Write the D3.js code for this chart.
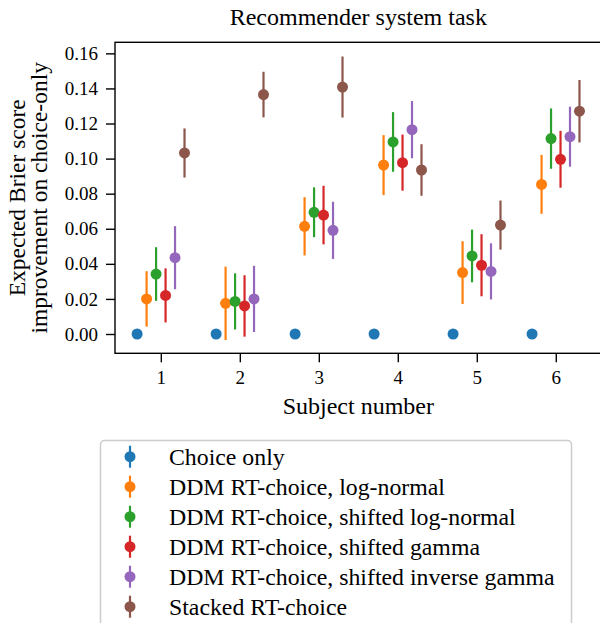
<!DOCTYPE html>
<html>
<head>
<meta charset="utf-8">
<script src="https://cdn.jsdelivr.net/npm/d3@7"></script>
<style>
  body { margin: 0; background: #fff; }
  svg { display: block; font-family: "Liberation Serif", serif; }
</style>
</head>
<body>
<svg id="chart" width="600" height="623"></svg>
<script>
// Data
const subjects = [1, 2, 3, 4, 5, 6];
const models = [
    "Choice only",
    "DDM RT-choice, log-normal",
    "DDM RT-choice, shifted log-normal",
    "DDM RT-choice, shifted gamma",
    "DDM RT-choice, shifted inverse gamma",
    "Stacked RT-choice"
];
const colors = ["#1f77b4", "#ff7f0e", "#2ca02c", "#d62728", "#9467bd", "#8c564b"];
const offsets = [-0.3, -0.18, -0.06, 0.06, 0.18, 0.3];

// mean improvement per model, one value per subject
const means = [
    [0, 0, 0, 0, 0, 0],
    [0.0200, 0.0175, 0.0614, 0.0963, 0.0350, 0.0853],
    [0.0342, 0.0186, 0.0694, 0.1095, 0.0445, 0.1114],
    [0.0220, 0.0160, 0.0678, 0.0977, 0.0392, 0.0996],
    [0.0435, 0.0200, 0.0591, 0.1165, 0.0357, 0.1125],
    [0.1032, 0.1365, 0.1408, 0.0935, 0.0621, 0.1270]
];
// half-length of each error bar
const errs = [
    [0, 0, 0, 0, 0, 0],
    [0.0158, 0.0209, 0.0166, 0.0171, 0.0179, 0.0168],
    [0.0153, 0.0160, 0.0142, 0.0170, 0.0150, 0.0172],
    [0.0154, 0.0175, 0.0167, 0.0160, 0.0177, 0.0162],
    [0.0180, 0.0189, 0.0163, 0.0163, 0.0160, 0.0171],
    [0.0140, 0.0130, 0.0174, 0.0147, 0.0140, 0.0178]
];
const yTicks = [0.00, 0.02, 0.04, 0.06, 0.08, 0.10, 0.12, 0.14, 0.16];

const svg = d3.select("#chart");
const plotLeft = 115, plotRight = 601.6, plotTop = 42.3, plotBottom = 353.3;

const x = d3.scaleLinear().domain([0.42, 6.58]).range([plotLeft, plotRight]);
const y = d3.scaleLinear().domain([-0.011, 0.1663]).range([plotBottom, plotTop]);

// title
svg.append("text")
    .attr("x", (plotLeft + plotRight) / 2).attr("y", 25)
    .attr("text-anchor", "middle")
    .attr("font-size", 24)
    .text("Recommender system task");

// axes
const xAxis = d3.axisBottom(x).tickValues(subjects).tickFormat(d3.format("d")).tickSize(9).tickPadding(8);
const yAxis = d3.axisLeft(y).tickValues(yTicks).tickFormat(d3.format(".2f")).tickSize(9).tickPadding(8);

const gx = svg.append("g").attr("transform", `translate(0,${plotBottom})`).call(xAxis);
const gy = svg.append("g").attr("transform", `translate(${plotLeft},0)`).call(yAxis);
[gx, gy].forEach(g => {
    g.attr("font-family", "Liberation Serif").attr("font-size", 19);
    g.select(".domain").remove();
    g.selectAll(".tick line").attr("stroke", "#000").attr("stroke-width", 1.4);
    g.selectAll(".tick text").attr("fill", "#000");
});

// frame (spines)
svg.append("rect")
    .attr("x", plotLeft).attr("y", plotTop)
    .attr("width", plotRight - plotLeft).attr("height", plotBottom - plotTop)
    .attr("fill", "none").attr("stroke", "#000").attr("stroke-width", 1.4);

// axis labels
svg.append("text")
    .attr("x", (plotLeft + plotRight) / 2).attr("y", 414)
    .attr("text-anchor", "middle")
    .attr("font-size", 24)
    .text("Subject number");

const ylab = svg.append("text")
    .attr("transform", `translate(25,${(plotTop + plotBottom) / 2}) rotate(-90)`)
    .attr("text-anchor", "middle")
    .attr("font-size", 23.5);
ylab.append("tspan").attr("x", 0).attr("dy", 0).text("Expected Brier score");
ylab.append("tspan").attr("x", 0).attr("dy", 22).text("improvement on choice-only");

// error bars and points
models.forEach((m, i) => {
    const g = svg.append("g");
    const rows = subjects.map((s, j) => ({ s: s + offsets[i], v: means[i][j], e: errs[i][j] }));
    g.selectAll("line")
        .data(rows.filter(d => d.e > 0))
        .join("line")
        .attr("x1", d => x(d.s)).attr("x2", d => x(d.s))
        .attr("y1", d => y(d.v - d.e)).attr("y2", d => y(d.v + d.e))
        .attr("stroke", colors[i]).attr("stroke-width", 2.2);
    g.selectAll("circle")
        .data(rows)
        .join("circle")
        .attr("cx", d => x(d.s)).attr("cy", d => y(d.v))
        .attr("r", 5.5)
        .attr("fill", colors[i]);
});

// legend
const legend = svg.append("g");
legend.append("rect")
    .attr("x", 100.5).attr("y", 440.5)
    .attr("width", 471).attr("height", 200)
    .attr("rx", 4)
    .attr("fill", "#fff").attr("stroke", "#cccccc").attr("stroke-width", 1.5);

models.forEach((m, i) => {
    const cy = 456.7 + i * 30;
    legend.append("line")
        .attr("x1", 130).attr("x2", 130)
        .attr("y1", cy - 11).attr("y2", cy + 11)
        .attr("stroke", colors[i]).attr("stroke-width", 2.2);
    legend.append("circle")
        .attr("cx", 130).attr("cy", cy).attr("r", 5.5)
        .attr("fill", colors[i]);
    legend.append("text")
        .attr("x", 169).attr("y", cy + 8.3)
        .attr("font-size", 23.8)
        .text(m);
});
</script>
</body>
</html>
